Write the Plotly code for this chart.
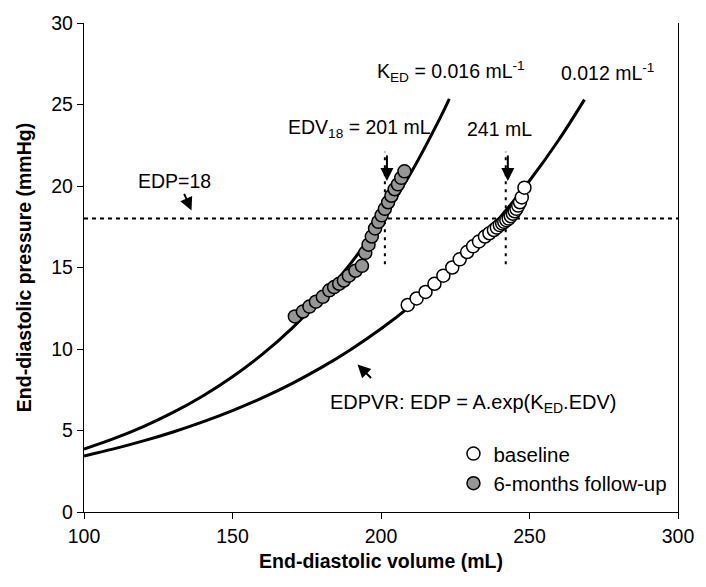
import plotly.graph_objects as go

# ---- data ----
# fitted EDPVR curves
curve_follow_x = [100, 110, 120, 130, 140, 150, 160, 170, 180, 190, 200, 210, 220, 223]
curve_follow_y = [3.86, 4.50, 5.24, 6.11, 7.12, 8.30, 9.67, 11.27, 13.13, 15.30, 17.83, 20.78, 24.21, 25.35]
curve_base_x = [100, 110, 120, 130, 140, 150, 160, 170, 180, 190, 200, 210, 220, 230, 240, 250, 260, 268.5]
curve_base_y = [3.44, 3.87, 4.36, 4.91, 5.53, 6.22, 7.00, 7.88, 8.87, 9.99, 11.24, 12.65, 14.25, 16.04, 18.06, 20.32, 22.87, 25.30]

# baseline (open circles)
base_edv = [209, 212, 215, 218, 221, 224, 226.5, 229, 231, 233, 235, 236.5, 238, 239, 240,
            240.8, 241.5, 242.2, 243, 243.7, 244.4, 245, 245.6, 246.2, 246.8, 247.4, 248.3]
base_edp = [12.7, 13.1, 13.5, 14.0, 14.5, 15.0, 15.5, 15.95, 16.3, 16.6, 16.9, 17.1, 17.3, 17.45, 17.6,
            17.7, 17.8, 17.9, 18.0, 18.15, 18.3, 18.45, 18.6, 18.8, 19.0, 19.3, 19.9]

# 6-months follow-up (grey circles)
fu_edv = [171.0, 173.7, 175.9, 178.1, 180.4, 182.6, 184.2, 185.9, 187.5, 189.2, 191.4, 193.6,
          194.7, 195.8, 196.9, 198.0, 199.1, 200.2, 201.3, 202.4, 203.5, 204.6, 205.7, 206.8, 207.9]
fu_edp = [12.0, 12.3, 12.6, 12.9, 13.2, 13.6, 13.8, 14.0, 14.2, 14.5, 14.8, 15.1,
          15.9, 16.4, 16.9, 17.4, 17.8, 18.2, 18.6, 19.0, 19.4, 19.8, 20.1, 20.5, 20.9]

edp_threshold = 18
edv18 = [201.3, 242.0]          # where the EDV18 markers are drawn
edv18_labels = ["EDV<sub>18</sub> = 201 mL", "241 mL"]
ked_labels = ["K<sub>ED</sub> = 0.016 mL<sup>-1</sup>", "0.012 mL<sup>-1</sup>"]

x_ticks = [100, 150, 200, 250, 300]
y_ticks = [0, 5, 10, 15, 20, 25, 30]

FONT = "Liberation Sans, Arial, sans-serif"
GREY = "#969696"
FS = 19.5

fig = go.Figure()

fig.add_trace(go.Scatter(x=curve_follow_x, y=curve_follow_y, mode="lines", line_shape="spline",
                         line=dict(color="black", width=3), showlegend=False, hoverinfo="skip"))
fig.add_trace(go.Scatter(x=curve_base_x, y=curve_base_y, mode="lines", line_shape="spline",
                         line=dict(color="black", width=3), showlegend=False, hoverinfo="skip"))

fig.add_trace(go.Scatter(x=base_edv, y=base_edp, mode="markers", name="baseline",
                         marker=dict(symbol="circle", size=13, color="white",
                                     line=dict(color="black", width=1.5))))
fig.add_trace(go.Scatter(x=fu_edv, y=fu_edp, mode="markers", name="6-months follow-up",
                         marker=dict(symbol="circle", size=13, color=GREY,
                                     line=dict(color="black", width=1.5))))

# horizontal EDP = 18 line
fig.add_shape(type="line", xref="x", yref="y", x0=100, x1=300, y0=edp_threshold, y1=edp_threshold,
              line=dict(color="black", width=2, dash="4px,4px"), layer="below")
# vertical EDV18 lines
for xv in edv18:
    fig.add_shape(type="line", xref="x", yref="y", x0=xv, x1=xv, y0=15.2, y1=22.1,
                  line=dict(color="black", width=2, dash="3px,5px"), layer="below")

ann = []
# arrows above the EDV18 lines
for xv in edv18:
    ann.append(dict(x=xv + 0.7, y=20.3, ax=0, ay=-27, xref="x", yref="y", text="",
                    showarrow=True, arrowhead=2, arrowsize=1.3, arrowwidth=2, arrowcolor="black"))
# EDP=18 arrow
ann.append(dict(x=136.2, y=18.5, ax=-8, ay=-18, xref="x", yref="y", text="",
                showarrow=True, arrowhead=2, arrowsize=1.3, arrowwidth=2, arrowcolor="black"))
# EDPVR arrow
ann.append(dict(x=192.1, y=9.05, ax=15, ay=15, xref="x", yref="y", text="",
                showarrow=True, arrowhead=2, arrowsize=1.3, arrowwidth=2, arrowcolor="black"))

txtfont = dict(family=FONT, size=FS, color="black")
ann.append(dict(x=223.7, y=27.0, xref="x", yref="y", text=ked_labels[0], showarrow=False, font=txtfont))
ann.append(dict(x=276.2, y=27.0, xref="x", yref="y", text=ked_labels[1], showarrow=False, font=txtfont))
ann.append(dict(x=192.7, y=23.5, xref="x", yref="y", text=edv18_labels[0], showarrow=False, font=txtfont))
ann.append(dict(x=239.9, y=23.5, xref="x", yref="y", text=edv18_labels[1], showarrow=False, font=txtfont))
ann.append(dict(x=130.5, y=20.3, xref="x", yref="y", text="EDP=18", showarrow=False, font=txtfont))
ann.append(dict(x=231.1, y=6.64, xref="x", yref="y", text="EDPVR: EDP = A.exp(K<sub>ED</sub>.EDV)",
                showarrow=False, font=dict(family=FONT, size=20, color="black")))

fig.update_layout(
    width=706, height=587,
    margin=dict(l=84, r=18, t=15, b=75),
    paper_bgcolor="white", plot_bgcolor="white",
    font=dict(family=FONT, size=FS, color="black"),
    annotations=ann,
    showlegend=True,
    legend=dict(x=0.622, y=0.16, xanchor="left", yanchor="top", bgcolor="rgba(0,0,0,0)",
                font=dict(family=FONT, size=20.5, color="black"), tracegroupgap=0),
)
fig.update_xaxes(range=[100, 300], tickvals=x_ticks, ticks="outside", ticklen=6, tickwidth=1.3,
                 tickcolor="black", showline=True, linecolor="black", linewidth=1.3,
                 showgrid=False, zeroline=False,
                 title=dict(text="<b>End-diastolic volume (mL)</b>", font=dict(family=FONT, size=FS),
                            standoff=8),
                 tickfont=dict(family=FONT, size=FS))
fig.update_yaxes(range=[0, 30], tickvals=y_ticks, ticks="outside", ticklen=6, tickwidth=1.3,
                 tickcolor="black", showline=True, linecolor="black", linewidth=1.3, mirror=True,
                 showgrid=False, zeroline=False,
                 title=dict(text="<b>End-diastolic pressure (mmHg)</b>", font=dict(family=FONT, size=FS),
                            standoff=14),
                 tickfont=dict(family=FONT, size=FS))

fig.write_html("out.html", config={"displayModeBar": False},
               post_script="document.body.style.margin='0px';")
